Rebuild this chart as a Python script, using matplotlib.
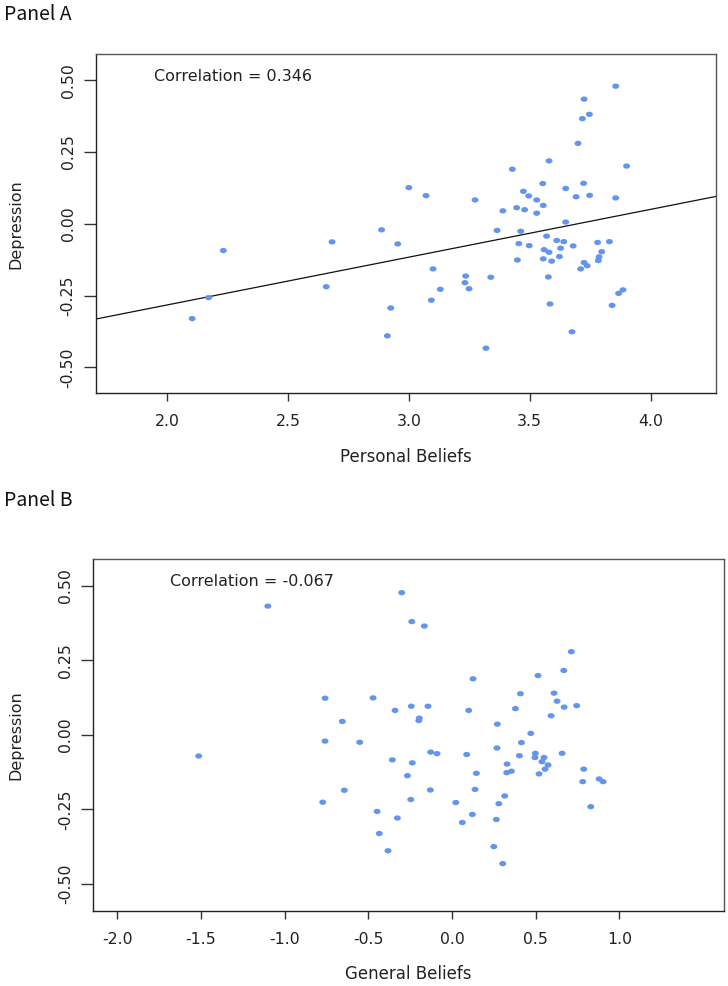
import matplotlib
matplotlib.use("Agg")
import matplotlib.pyplot as plt
from matplotlib.path import Path
import numpy as np

# ---------------- data ----------------
personal_beliefs = [
    2.232, 2.171, 2.103, 2.682, 2.658, 2.887, 2.954, 2.925, 2.911,
    3.856, 3.725, 3.747, 3.718, 3.700, 3.580, 3.428, 3.901, 3.000, 3.071,
    3.274, 3.474, 3.496, 3.529, 3.554, 3.649, 3.723, 3.692, 3.748, 3.856,
    3.556, 3.389, 3.446, 3.479, 3.529,
    3.649, 3.365, 3.463, 3.570, 3.612, 3.641, 3.455, 3.498, 3.680, 3.781,
    3.830, 3.560, 3.580, 3.628, 3.798, 3.787, 3.623, 3.556, 3.591, 3.449,
    3.784, 3.725, 3.738, 3.711, 3.100, 3.235, 3.339, 3.577, 3.232, 3.130,
    3.249, 3.093, 3.886, 3.868, 3.841, 3.584, 3.675, 3.319,
]
depression_a = [
    -0.093, -0.257, -0.330, -0.063, -0.219, -0.021, -0.070, -0.293, -0.390,
    0.479, 0.434, 0.381, 0.366, 0.280, 0.219, 0.190, 0.201, 0.126, 0.098,
    0.083, 0.113, 0.097, 0.083, 0.140, 0.123, 0.141, 0.094, 0.099, 0.090,
    0.064, 0.045, 0.056, 0.049, 0.037,
    0.006, -0.023, -0.026, -0.043, -0.058, -0.062, -0.069, -0.076, -0.077, -0.065,
    -0.062, -0.090, -0.099, -0.085, -0.097, -0.115, -0.114, -0.122, -0.130, -0.126,
    -0.128, -0.135, -0.146, -0.157, -0.157, -0.182, -0.186, -0.185, -0.205, -0.228,
    -0.226, -0.266, -0.230, -0.242, -0.284, -0.279, -0.376, -0.433,
]

general_beliefs = [
    -1.100, -0.300, -0.758, -0.471, -0.240, -0.165, 0.713, 0.668, 0.514, 0.126,
    0.409, 0.610, -0.340, -0.655, -0.758, -0.551, -0.356, -1.513, -0.643, -0.772,
    -0.447, -0.326, -0.434, -0.382, 0.628, 0.670, 0.745, 0.379, 0.592, -0.243,
    -0.143, 0.100, -0.195, -0.198, 0.271, 0.471, 0.415, 0.269, -0.127, -0.089,
    0.088, 0.403, 0.498, 0.496, 0.550, 0.658, -0.237, 0.538, 0.574, 0.329,
    0.556, 0.787, 0.327, 0.355, 0.146, 0.520, -0.266, 0.781, 0.879, 0.903,
    -0.129, 0.138, 0.315, -0.246, 0.023, 0.280, 0.829, 0.122, 0.062, 0.265,
    0.250, 0.303,
]
depression_b = [
    0.432, 0.477, 0.123, 0.124, 0.380, 0.365, 0.279, 0.216, 0.199, 0.188,
    0.138, 0.140, 0.082, 0.045, -0.021, -0.025, -0.084, -0.071, -0.186, -0.226,
    -0.257, -0.279, -0.331, -0.389, 0.113, 0.093, 0.098, 0.088, 0.064, 0.096,
    0.096, 0.082, 0.056, 0.048, 0.036, 0.005, -0.026, -0.044, -0.058, -0.063,
    -0.066, -0.070, -0.062, -0.076, -0.076, -0.062, -0.094, -0.090, -0.101, -0.098,
    -0.115, -0.115, -0.127, -0.122, -0.129, -0.131, -0.137, -0.157, -0.148, -0.157,
    -0.185, -0.183, -0.205, -0.217, -0.227, -0.231, -0.241, -0.267, -0.294, -0.284,
    -0.375, -0.432,
]

# regression line
fit_intercept_a = -0.615
fit_slope_a = 0.1663

corr_a_text = "Correlation = 0.346"
corr_b_text = "Correlation = -0.067"

xticks_a = [2.0, 2.5, 3.0, 3.5, 4.0]
xticks_b = [-2.0, -1.5, -1.0, -0.5, 0.0, 0.5, 1.0]
yticks = [-0.50, -0.25, 0.00, 0.25, 0.50]
ytick_labels = ["-0.50", "-0.25", "0.00", "0.25", "0.50"]

# ---------------- style ----------------
W, H = 728, 986
FONT = "DejaVu Sans"
PT_COLOR = "#6495ED"
TXT = "#222222"
plt.rcParams["font.family"] = [FONT]

# slightly wide elliptical dot (the reference image is stretched horizontally)
_t = np.linspace(0, 2 * np.pi, 40)
ELLIPSE = Path(np.column_stack([1.3 * np.cos(_t), np.sin(_t)]), closed=True)

fig = plt.figure(figsize=(W / 100, H / 100), dpi=100)
fig.patch.set_facecolor("white")


def px_axes(left, top, right, bottom):
    return fig.add_axes([left / W, 1 - bottom / H, (right - left) / W, (bottom - top) / H])


def style(ax, xticks, xlim, xlabel):
    ax.set_xlim(*xlim)
    ax.set_ylim(-0.59, 0.59)
    ax.set_xticks(xticks, [f"{t:.1f}" for t in xticks], fontsize=11.3, color=TXT)
    ax.set_yticks(yticks, ytick_labels, fontsize=11.3, rotation=90, va="center", color=TXT)
    ax.tick_params(axis="x", direction="out", length=6, width=1.0, color="#333333", pad=9)
    ax.tick_params(axis="y", direction="out", length=8.6, width=1.0, color="#333333", pad=5.8)
    for s in ax.spines.values():
        s.set_color("#555555")
        s.set_linewidth(1.0)
    ax.spines["left"].set_color("#222222")
    ax.spines["bottom"].set_color("#222222")
    ax.set_xlabel(xlabel, fontsize=12, color=TXT)
    ax.set_ylabel("Depression", fontsize=11.5, color=TXT)


# Panel A
axA = px_axes(95.7, 54.3, 716, 393.3)
style(axA, xticks_a, (1.704, 4.271), "Personal Beliefs")
axA.scatter(personal_beliefs, depression_a, s=25, marker=ELLIPSE, color=PT_COLOR,
            edgecolors="none", zorder=3)
axA.axline((0, fit_intercept_a), slope=fit_slope_a, color="#111111", lw=0.9, zorder=2)
axA.text(1.945, 0.514, corr_a_text, ha="left", va="center", fontsize=11.5, color=TXT)
axA.xaxis.set_label_coords(0.5, -(457 - 393.3) / (393.3 - 54.3))
axA.xaxis.label.set_va("center")
axA.yaxis.set_label_coords(-(95.7 - 16) / (716 - 95.7), 0.5)
axA.yaxis.label.set_va("center")

# Panel B
axB = px_axes(93, 559, 724, 910.7)
style(axB, xticks_b, (-2.144, 1.625), "General Beliefs")
axB.scatter(general_beliefs, depression_b, s=25, marker=ELLIPSE, color=PT_COLOR,
            edgecolors="none", zorder=3)
axB.text(-1.684, 0.515, corr_b_text, ha="left", va="center", fontsize=11.5, color=TXT)
axB.xaxis.set_label_coords(0.5, -(974 - 910.7) / (910.7 - 559))
axB.xaxis.label.set_va("center")
axB.yaxis.set_label_coords(-(93 - 16) / (724 - 93), 0.5)
axB.yaxis.label.set_va("center")

# Panel titles
fig.text(4 / W, 1 - 14 / H, "Panel A", ha="left", va="center", fontsize=14,
         family=["Noto Sans CJK KR", "DejaVu Sans"], color="#111111")
fig.text(4 / W, 1 - 500 / H, "Panel B", ha="left", va="center", fontsize=14,
         family=["Noto Sans CJK KR", "DejaVu Sans"], color="#111111")

fig.savefig("out.png", dpi=100, facecolor="white")
